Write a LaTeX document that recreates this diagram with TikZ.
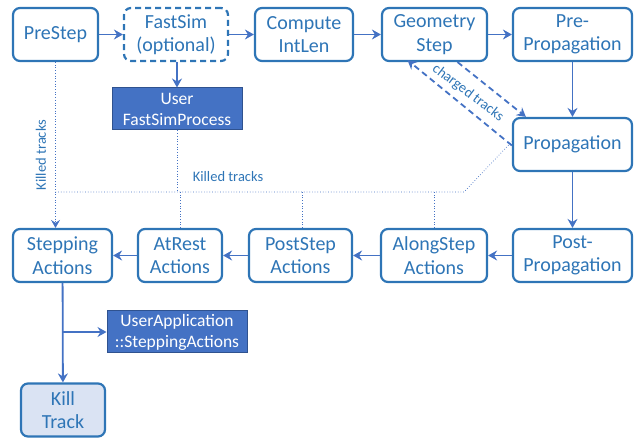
\documentclass[tikz,border=0pt]{standalone}
\usepackage{fontspec}
\setmainfont{Carlito}
\usetikzlibrary{arrows.meta,calc}
\definecolor{boxc}{HTML}{2E75B6}
\definecolor{arrc}{HTML}{4472C4}
\definecolor{fillc}{HTML}{4472C4}
\definecolor{filld}{HTML}{2F528F}
\definecolor{killc}{HTML}{DAE3F3}
\tikzset{
  stepbox/.style={draw=boxc, line width=2.2pt, rounded corners=7pt, text=boxc, align=center,
    inner sep=0pt, minimum height=53pt, font=\fontsize{20}{23.5}\selectfont},
  userbox/.style={draw=filld, line width=1pt, fill=fillc, text=white, align=center,
    inner sep=0pt, minimum height=42pt, font=\fontsize{17.5}{21}\selectfont},
  flow/.style={draw=arrc, line width=1.8pt, -{Stealth[length=9pt,width=10pt,inset=3pt]}},
  dflow/.style={draw=arrc, line width=1.8pt, dash pattern=on 6pt off 4pt, -{Stealth[length=9pt,width=10pt,inset=3pt]}},
  killed/.style={draw=arrc, line width=0.7pt, dotted},
  lbl/.style={text=boxc, font=\fontsize{14.5}{16}\selectfont, inner sep=0pt},
}
\begin{document}
\begin{tikzpicture}[x=1pt,y=-1pt]
\useasboundingbox (0,0) rectangle (635,438);
% top row
\node[stepbox, minimum width=85pt] (pre) at (55.5,34.5) {PreStep};
\node[stepbox, minimum width=104pt, dash pattern=on 6pt off 4pt] (fast) at (176,34.5) {FastSim\\(optional)};
\node[stepbox, minimum width=98pt] (comp) at (304,34.5) {Compute\\IntLen};
\node[stepbox, minimum width=105pt] (geo) at (434.5,34.5) {Geometry\\Step};
\node[stepbox, minimum width=119pt] (prep) at (572.5,34.5) {Pre-\\Propagation};
\node[userbox, minimum width=130pt] (ufs) at (177,109) {User\\FastSimProcess};
\node[stepbox, minimum width=119pt] (prop) at (572.5,144.5) {Propagation};
% bottom row
\node[stepbox, minimum width=99pt] (stepa) at (62.5,255.5) {Stepping\\Actions};
\node[stepbox, minimum width=84pt] (atrest) at (180,255.5) {AtRest\\Actions};
\node[stepbox, minimum width=103pt] (post) at (300.5,255.5) {PostStep\\Actions};
\node[stepbox, minimum width=106pt] (along) at (434,255.5) {AlongStep\\Actions};
\node[stepbox, minimum width=119pt] (postp) at (572.5,255.5) {Post-\\Propagation};
\node[userbox, minimum width=140pt] (uapp) at (177,332) {UserApplication\\::SteppingActions};
\node[stepbox, minimum width=84pt, fill=killc] (kill) at (63,410) {Kill\\Track};
% main flow
\draw[flow] (pre) -- (fast);
\draw[flow] (fast) -- (comp);
\draw[flow] (comp) -- (geo);
\draw[flow] (geo) -- (prep);
\draw[flow] (prep) -- (prop);
\draw[flow] (prop) -- (postp);
\draw[flow] (postp) -- (along);
\draw[flow] (along) -- (post);
\draw[flow] (post) -- (atrest);
\draw[flow] (atrest) -- (stepa);
\draw[flow] (fast.south -| ufs.north) -- (ufs.north);
\draw[flow] (stepa) -- (kill);
\coordinate (br) at (stepa.south |- uapp.west);
\draw[flow] (br) -- (uapp.west);
% charged tracks
\draw[dflow] ([xshift=23pt]geo.south) -- ([xshift=14pt]prop.north west);
\draw[dflow] ([yshift=-1pt]prop.west) -- ([xshift=-27pt,yshift=2pt]geo.south);
\node[lbl, rotate=-37] (ct) at (468,93) {charged tracks};
% killed tracks
\coordinate (hl) at (pre.south |- 0,192);
\coordinate (hr) at (464,192);
\draw[killed] (hl) -- (hr) -- ([yshift=3pt]prop.west);
\draw[killed, -{Stealth[length=8pt,width=9pt,inset=3pt]}, line width=0.7pt] (pre.south) -- (stepa.north -| pre.south);
\draw[killed] (ufs.south) -- (ufs.south |- hl);
\draw[killed] (atrest.north) -- (atrest.north |- hl);
\draw[killed] ([xshift=2pt]post.north) -- ([xshift=2pt]post.north |- hl);
\draw[killed] (along.north) -- (along.north |- hl);
\node[lbl, rotate=90] (kt1) at (41,155) {Killed tracks};
\node[lbl] (kt2) at (228,177) {Killed tracks};
\end{tikzpicture}
\end{document}
